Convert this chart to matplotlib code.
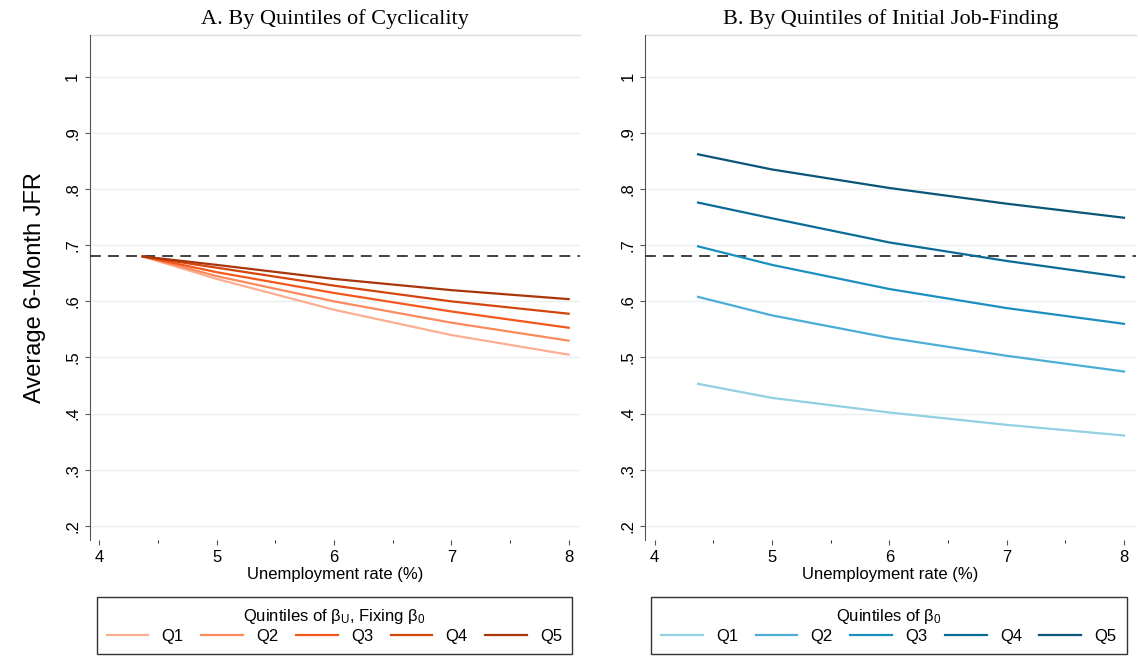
import numpy as np
import matplotlib
matplotlib.use("Agg")
import matplotlib.pyplot as plt

plt.rcParams['font.family'] = ['Liberation Sans', 'DejaVu Sans']
plt.rcParams['mathtext.default'] = 'regular'

x = [4.37, 5, 6, 7, 8]
ref = 0.68

cyc = {
    "Q1": [0.68, 0.640, 0.585, 0.540, 0.505],
    "Q2": [0.68, 0.645, 0.600, 0.562, 0.530],
    "Q3": [0.68, 0.652, 0.615, 0.582, 0.553],
    "Q4": [0.68, 0.660, 0.628, 0.600, 0.578],
    "Q5": [0.68, 0.665, 0.640, 0.620, 0.604],
}
init = {
    "Q1": [0.453, 0.428, 0.402, 0.380, 0.361],
    "Q2": [0.608, 0.575, 0.535, 0.503, 0.475],
    "Q3": [0.698, 0.665, 0.622, 0.588, 0.560],
    "Q4": [0.776, 0.748, 0.705, 0.672, 0.643],
    "Q5": [0.862, 0.835, 0.802, 0.774, 0.749],
}
oranges = ["#fdae91", "#fb8a5c", "#f4581c", "#d4440e", "#a8360a"]
blues = ["#92d0e2", "#4aaed6", "#1a8fc0", "#0b6b96", "#0a5678"]

fig = plt.figure(figsize=(11.38, 6.56), dpi=100)
axA = fig.add_axes([0.079, 0.177, 0.431, 0.77])
axB = fig.add_axes([0.567, 0.177, 0.431, 0.77])

panels = [
    (axA, cyc, oranges, "A. By Quintiles of Cyclicality", "Quintiles of β$_U$, Fixing β$_0$", 0.085),
    (axB, init, blues, "B. By Quintiles of Initial Job-Finding", "Quintiles of β$_0$", 0.572),
]
for ax, data, cols, title, legtitle, lx in panels:
    ax.axhline(ref, color="#333333", ls=(0, (6, 4)), lw=1.3, zorder=3)
    handles = []
    for (name, vals), c in zip(data.items(), cols):
        h, = ax.plot(x, vals, color=c, lw=1.6, label=name, zorder=4)
        handles.append(h)
    ax.set_xlim(3.92, 8.1)
    ax.set_ylim(0.175, 1.075)
    ax.set_yticks(np.arange(0.2, 1.01, 0.1))
    ax.set_yticklabels([".2", ".3", ".4", ".5", ".6", ".7", ".8", ".9", "1"], rotation=90, va="center")
    ax.set_xticks([4, 5, 6, 7, 8])
    ax.set_xticks([4.5, 5.5, 6.5, 7.5], minor=True)
    ax.tick_params(labelsize=12, color="#555555")
    ax.grid(axis="y", color="#eaf0f2", lw=1)
    for s in ["top", "right", "bottom"]:
        ax.spines[s].set_visible(False)
    ax.spines["left"].set_color("#555555")
    ax.set_xlabel("Unemployment rate (%)", fontsize=12, labelpad=2)
    ax.set_title(title, fontsize=16, family="Liberation Serif", pad=8)
    ax.axhline(1.075, color="#dddddd", lw=1, clip_on=False)
    leg = fig.legend(handles=handles, ncol=5, loc="lower left",
                     bbox_to_anchor=(lx, 0.003, 0.418, 0.1), mode="expand",
                     title=legtitle, fontsize=12, title_fontsize=12,
                     fancybox=False, edgecolor="black", handlelength=2.5,
                     borderaxespad=0, borderpad=0.6, labelspacing=0.2)
    leg.get_frame().set_linewidth(1)

axA.set_ylabel("Average 6-Month JFR", fontsize=17, labelpad=14)
fig.savefig("out.png", dpi=100)
